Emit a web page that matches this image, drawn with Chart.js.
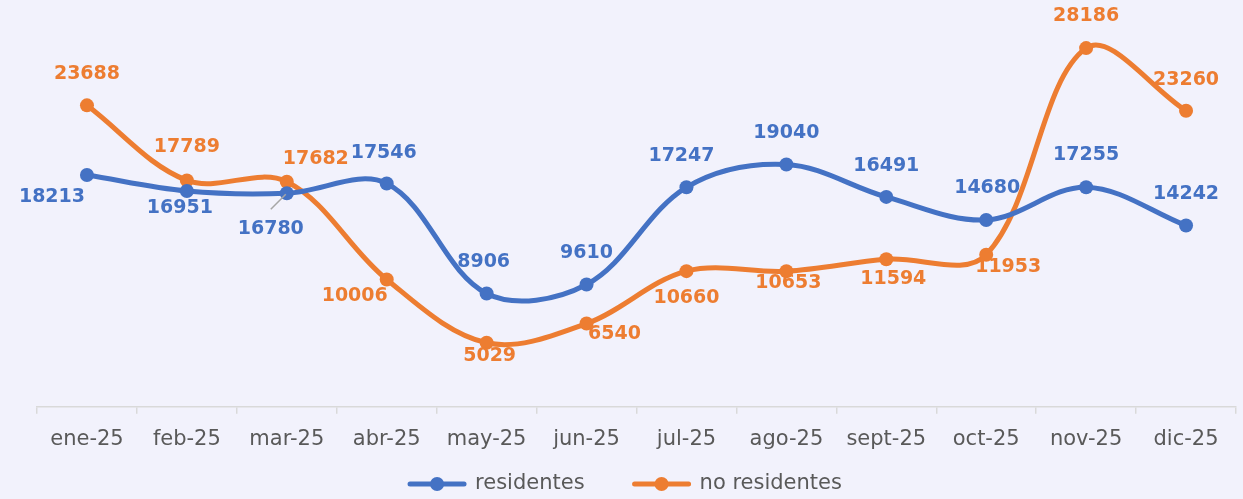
<!DOCTYPE html>
<html>
<head>
<meta charset="utf-8">
<script src="https://cdn.jsdelivr.net/npm/chart.js@4/dist/chart.umd.min.js"></script>
<style>
  html, body { margin: 0; padding: 0; background: #F2F2FC; }
  #wrap { width: 1243px; height: 499px; position: relative; }
</style>
</head>
<body>
<div id="wrap"><canvas id="chart" width="1243" height="499"></canvas></div>
<script>
const months = ['ene-25', 'feb-25', 'mar-25', 'abr-25', 'may-25', 'jun-25', 'jul-25', 'ago-25', 'sept-25', 'oct-25', 'nov-25', 'dic-25'];
const residentes = [18213, 16951, 16780, 17546, 8906, 9610, 17247, 19040, 16491, 14680, 17255, 14242];
const noResidentes = [23688, 17789, 17682, 10006, 5029, 6540, 10660, 10653, 11594, 11953, 28186, 23260];

// label offsets from each point (pixels), as placed in the original
const resLabelDx = [-35, -7, -16, -3, -3, 0, -5, 0, 0, 1, 0, 0];
const resLabelDy = [22, 17, 36, -30, -31, -31, -31, -31, -31, -32, -32, -31];
const noResLabelDx = [0, 0, 29, -32, 3, 28, 0, 2, 7, 22, 0, 0];
const noResLabelDy = [-31, -33, -23, 17, 13, 10, 27, 12, 20, 12, -32, -31];

const BLUE = '#4472C4';
const ORANGE = '#ED7D31';
const GRAY = '#595959';
const FONT = '"DejaVu Sans"';

const pointLabels = {
    id: 'pointLabels',
    afterDatasetsDraw(chart) {
        const ctx = chart.ctx;
        const offs = [[resLabelDx, resLabelDy], [noResLabelDx, noResLabelDy]];
        ctx.save();
        ctx.font = 'bold 19px ' + FONT;
        ctx.textAlign = 'center';
        ctx.textBaseline = 'middle';
        chart.data.datasets.forEach((ds, di) => {
            const meta = chart.getDatasetMeta(di);
            meta.data.forEach((pt, i) => {
                const x = pt.x + offs[di][0][i];
                const y = pt.y + offs[di][1][i];
                // leader line for the mar-25 residentes label
                if (di === 0 && i === 2) {
                    ctx.strokeStyle = '#A6A6A6';
                    ctx.lineWidth = 1.5;
                    ctx.beginPath();
                    ctx.moveTo(pt.x - 16, pt.y + 16);
                    ctx.lineTo(pt.x - 1, pt.y + 1);
                    ctx.stroke();
                }
                ctx.fillStyle = ds.borderColor;
                ctx.fillText(ds.data[i], x, y);
            });
        });
        ctx.restore();
    }
};

// legend: line with a dot, then the series name
const lineLegend = {
    id: 'lineLegend',
    afterDraw(chart) {
        const ctx = chart.ctx;
        const y = 484;
        const gap = 47;
        ctx.save();
        ctx.font = '21px ' + FONT;
        const items = chart.data.datasets.map(ds => ({
            ds: ds,
            w: 58 + 10 + ctx.measureText(ds.label).width
        }));
        const total = items.reduce((s, it) => s + it.w, 0) + gap * (items.length - 1);
        let x = (chart.width - total) / 2 + 3;
        items.forEach(it => {
            const color = it.ds.borderColor;
            ctx.strokeStyle = color;
            ctx.lineWidth = 5;
            ctx.lineCap = 'round';
            ctx.beginPath();
            ctx.moveTo(x + 3, y);
            ctx.lineTo(x + 57, y);
            ctx.stroke();
            ctx.fillStyle = color;
            ctx.beginPath();
            ctx.arc(x + 30, y, 7, 0, Math.PI * 2);
            ctx.fill();
            ctx.fillStyle = GRAY;
            ctx.textAlign = 'left';
            ctx.textBaseline = 'middle';
            ctx.fillText(it.ds.label, x + 68, y);
            x += it.w + gap;
        });
        ctx.restore();
    }
};

const ctx = document.getElementById('chart').getContext('2d');
const chart = new Chart(ctx, {
    type: 'line',
    data: {
        labels: months,
        datasets: [{
            label: 'residentes',
            data: residentes,
            borderColor: BLUE,
            backgroundColor: BLUE,
            borderWidth: 5,
            pointRadius: 7,
            pointBorderWidth: 0,
            tension: 0.35
        }, {
            label: 'no residentes',
            data: noResidentes,
            borderColor: ORANGE,
            backgroundColor: ORANGE,
            borderWidth: 5,
            pointRadius: 7,
            pointBorderWidth: 0,
            tension: 0.35
        }]
    },
    options: {
        responsive: false,
        animation: false,
        layout: { padding: { top: 25, left: 37, right: 6, bottom: 34 } },
        plugins: {
            tooltip: { enabled: false },
            legend: { display: false }
        },
        scales: {
            x: {
                offset: true,
                grid: {
                    offset: true,
                    drawOnChartArea: false,
                    color: '#D9D9D9',
                    tickLength: 7,
                    lineWidth: 1.5
                },
                border: { color: '#D9D9D9', width: 1.5 },
                ticks: {
                    color: GRAY,
                    padding: 13,
                    maxRotation: 0,
                    autoSkip: false,
                    font: { family: FONT, size: 21 }
                }
            },
            y: {
                display: false,
                min: 0,
                max: 30000
            }
        }
    },
    plugins: [pointLabels, lineLegend]
});
</script>
</body>
</html>
